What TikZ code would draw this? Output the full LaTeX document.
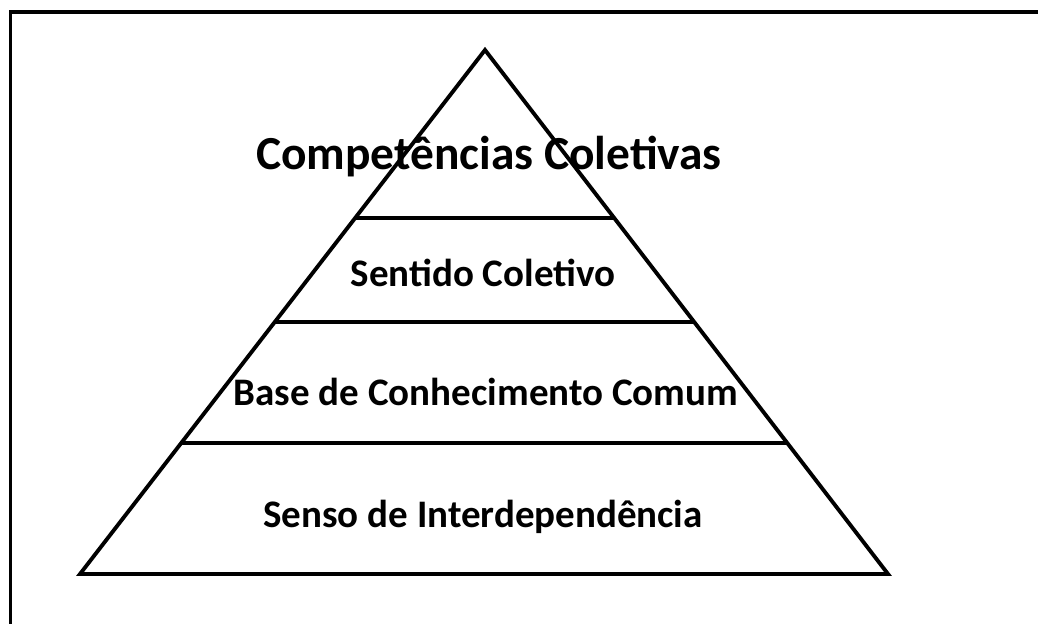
\documentclass[tikz,border=0pt]{standalone}
\usepackage{fontspec}
\setmainfont{Carlito}
\usetikzlibrary{calc}

\begin{document}
\begin{tikzpicture}[x=0.02cm,y=-0.02cm]
\useasboundingbox (0,0) rectangle (1038,624);

\tikzstyle{every node}=[font=\bfseries\fontsize{22.2}{26}\selectfont,inner sep=0pt]
\tikzstyle{thick line}=[line width=2.2pt,line join=miter]

% frame (only top and left edges show)
\draw[thick line] (1045,12) -- (10.5,12) -- (10.5,630);

% pyramid
\coordinate (apex) at (485,50);
\coordinate (baseleft) at (80,574);
\coordinate (baseright) at (888,574);
\draw[thick line] (apex) -- (baseright) -- (baseleft) -- cycle;

\draw[thick line]
($(apex)!0.3206!(baseleft)$) -- ($(apex)!0.3206!(baseright)$)
($(apex)!0.519!(baseleft)$) -- ($(apex)!0.519!(baseright)$)
($(apex)!0.750!(baseright)$) -- ($(apex)!0.750!(baseleft)$);

\node (competencias) [font=\bfseries\fontsize{27}{32}\selectfont] at (489,157) {Competências Coletivas};
\node (sentido) at (483,273) {Sentido Coletivo};
\node (base) at (486,392) {Base de Conhecimento Comum};
\node (senso) at (483,517) {Senso de Interdependência};
\end{tikzpicture}
\end{document}
